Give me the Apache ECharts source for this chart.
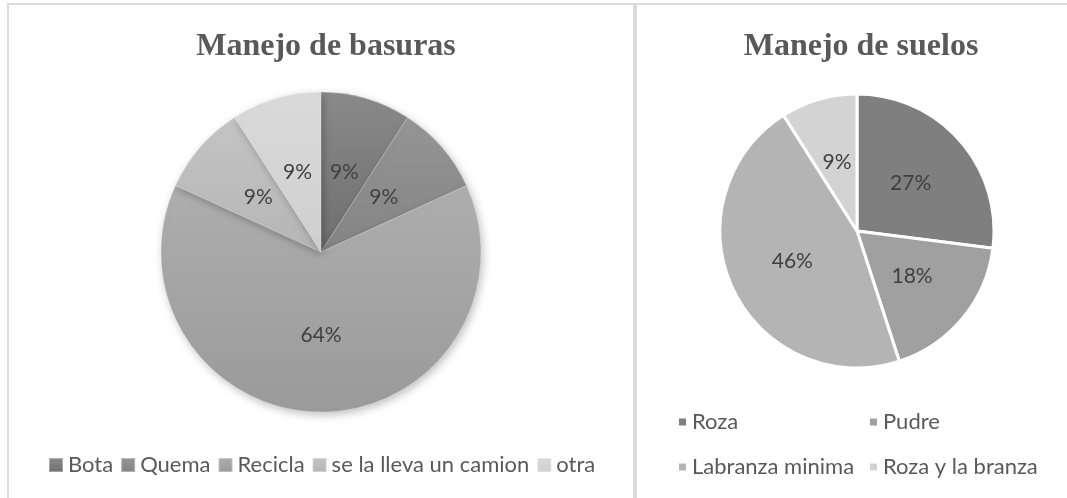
<!DOCTYPE html>
<html>
<head>
<meta charset="utf-8">
<script src="https://cdn.jsdelivr.net/npm/echarts@6/dist/echarts.min.js"></script>
<style>
  html, body { margin: 0; padding: 0; background: #fff; }
  #main { width: 1067px; height: 498px; }
</style>
</head>
<body>
<div id="main"></div>
<script>
// Manejo de basuras
const basurasCats = ["Bota", "Quema", "Recicla", "se la lleva un camion", "otra"];
const basurasVals = [1, 1, 7, 1, 1];
const basurasTop = ["#8a8a8a", "#959595", "#aeaeae", "#c4c4c4", "#dadada"];
const basurasBottom = ["#6e6e6e", "#848484", "#9a9a9a", "#b5b5b5", "#cfcfcf"];

// Manejo de suelos
const suelosCats = ["Roza", "Pudre", "Labranza minima", "Roza y la branza"];
const suelosVals = [27, 18, 46, 9];
const suelosColors = ["#7f7f7f", "#a0a0a0", "#b4b4b4", "#d3d3d3"];

const chart = echarts.init(document.getElementById("main"));

const grad = (a, b) => ({
  type: "linear", x: 0, y: 0, x2: 0, y2: 1,
  colorStops: [{ offset: 0, color: a }, { offset: 1, color: b }]
});

const uiFont = "Lato";
const pctLabel = (p) => Math.round(p.percent) + "%";

const option = {
  animation: false,
  graphic: [
    { type: "rect", shape: { x: 7, y: 3, width: 1060, height: 2 }, style: { fill: "#dcdcdc" } },
    { type: "rect", shape: { x: 7, y: 3, width: 2, height: 495 }, style: { fill: "#dcdcdc" } },
    { type: "rect", shape: { x: 633, y: 3, width: 4, height: 495 }, style: { fill: "#dcdcdc" } }
  ],
  title: [
    {
      text: "Manejo de basuras", left: 321, top: 26, textAlign: "center",
      textStyle: { fontFamily: "Liberation Serif", fontWeight: "bold", fontSize: 32, color: "#595959" }
    },
    {
      text: "Manejo de suelos", left: 856, top: 26, textAlign: "center",
      textStyle: { fontFamily: "Liberation Serif", fontWeight: "bold", fontSize: 32, color: "#595959" }
    }
  ],
  legend: [
    {
      data: basurasCats, left: 48, top: 453, orient: "horizontal", padding: 0,
      itemWidth: 14, itemHeight: 14, itemGap: 7, icon: "rect",
      textStyle: { fontFamily: uiFont, fontSize: 22, color: "#595959", lineHeight: 24 }
    },
    {
      data: [suelosCats[0], suelosCats[2]], left: 677, top: 410, orient: "vertical", padding: 0,
      itemWidth: 9, itemHeight: 9, itemGap: 21, icon: "rect",
      textStyle: { fontFamily: uiFont, fontSize: 22, color: "#595959", lineHeight: 24 }
    },
    {
      data: [suelosCats[1], suelosCats[3]], left: 868, top: 410, orient: "vertical", padding: 0,
      itemWidth: 9, itemHeight: 9, itemGap: 21, icon: "rect",
      textStyle: { fontFamily: uiFont, fontSize: 22, color: "#595959", lineHeight: 24 }
    }
  ],
  series: [
    {
      type: "pie",
      center: [321, 252],
      radius: 160,
      startAngle: 90,
      clockwise: true,
      data: basurasCats.map((c, i) => ({
        name: c, value: basurasVals[i],
        itemStyle: { color: grad(basurasTop[i], basurasBottom[i]) }
      })),
      itemStyle: {
        borderColor: "rgba(255,255,255,0.35)", borderWidth: 0.6,
        shadowBlur: 8, shadowOffsetX: 2, shadowOffsetY: 3, shadowColor: "rgba(0,0,0,0.25)"
      },
      label: {
        position: "inside", formatter: pctLabel,
        fontFamily: uiFont, fontSize: 21, color: "#404040"
      },
      labelLine: { show: false },
      emphasis: { disabled: true }
    },
    {
      type: "pie",
      center: [857, 231],
      radius: 137,
      startAngle: 90,
      clockwise: true,
      data: suelosCats.map((c, i) => ({
        name: c, value: suelosVals[i],
        itemStyle: { color: suelosColors[i] }
      })),
      itemStyle: { borderColor: "#ffffff", borderWidth: 3 },
      label: {
        position: "inside", formatter: pctLabel,
        fontFamily: uiFont, fontSize: 21, color: "#404040"
      },
      labelLine: { show: false },
      emphasis: { disabled: true }
    }
  ]
};

chart.setOption(option);
</script>
</body>
</html>
